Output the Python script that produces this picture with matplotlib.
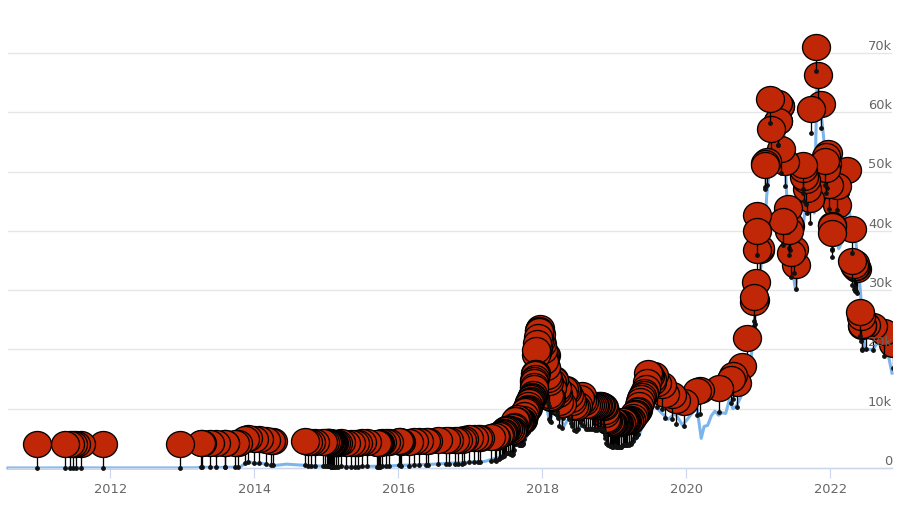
import matplotlib
matplotlib.use('Agg')
import matplotlib.pyplot as plt
from matplotlib.path import Path
from matplotlib.transforms import Affine2D
import numpy as np

# price line (year, thousands)
line_years = [2010.58, 2011.0, 2011.45, 2012.0, 2012.9, 2013.2, 2013.28, 2013.5, 2013.8, 2013.92, 2014.0, 2014.1, 2014.2, 2014.3,
              2014.45, 2014.7, 2015.0, 2015.5, 2015.9, 2016.0, 2016.5, 2017.0, 2017.2, 2017.4, 2017.5, 2017.55, 2017.65,
              2017.75, 2017.85, 2017.92, 2017.96, 2018.02, 2018.05, 2018.1, 2018.2, 2018.3, 2018.4, 2018.5, 2018.58,
              2018.7, 2018.85, 2018.95, 2019.1, 2019.25, 2019.35, 2019.45, 2019.5, 2019.6, 2019.75, 2019.85, 2019.95,
              2020.1, 2020.15, 2020.21, 2020.25, 2020.3, 2020.35, 2020.4, 2020.45, 2020.5, 2020.55, 2020.6, 2020.65, 2020.7,
              2020.8, 2020.9, 2020.98, 2021.03, 2021.08,
              2021.12, 2021.2, 2021.28, 2021.36, 2021.4, 2021.47, 2021.52, 2021.6, 2021.7, 2021.78, 2021.82, 2021.9,
              2021.98, 2022.05, 2022.12, 2022.2, 2022.24, 2022.3, 2022.36, 2022.42, 2022.48, 2022.6, 2022.7, 2022.8, 2022.86]
line_values = [0.0, 0.0, 0.02, 0.01, 0.01, 0.03, 0.13, 0.09, 0.15, 1.1, 0.75, 0.8, 0.5, 0.45,
               0.65, 0.45, 0.28, 0.25, 0.35, 0.43, 0.65, 1.0, 1.1, 1.8, 2.5, 2.3, 4.3,
               4.3, 7.5, 11.5, 19.0, 14.0, 11.0, 8.0, 10.5, 7.0, 9.0, 6.3, 8.0,
               6.5, 6.3, 3.5, 3.5, 4.1, 5.6, 9.0, 12.0, 10.0, 8.2, 9.2, 7.2,
               9.5, 10.2, 5.0, 7.0, 7.2, 8.8, 9.6, 8.9, 9.3, 9.2, 11.5, 10.0, 10.5,
               13.0, 18.0, 29.0, 33.0, 38.0,
               46.0, 55.0, 50.0, 57.0, 45.0, 34.0, 30.0, 39.0, 47.0, 43.0, 66.0, 57.0,
               47.0, 41.0, 37.0, 39.0, 46.0, 40.0, 38.0, 30.0, 20.0, 20.0, 22.0, 19.5, 16.0]

flag_years = [2010.98, 2011.37, 2011.44, 2011.48, 2011.53, 2011.60, 2011.90, 2012.97, 2013.26, 2013.27, 2013.38, 2013.47,
              2013.59, 2013.60, 2013.74, 2013.78, 2013.87, 2013.92, 2014.0, 2014.06, 2014.17, 2014.24, 2014.26,
              2014.70, 2014.75, 2014.79, 2014.84, 2014.95, 2014.98, 2015.01, 2015.03, 2015.05, 2015.07, 2015.09, 2015.10,
              2015.13, 2015.16, 2015.21, 2015.28, 2015.35, 2015.40, 2015.44, 2015.50, 2015.57, 2015.71, 2015.72, 2015.74,
              2015.77, 2015.83, 2015.87, 2016.01, 2016.04, 2016.15, 2016.22, 2016.29, 2016.38, 2016.41, 2016.55, 2016.66,
              2016.71, 2016.79, 2016.83, 2016.88, 2016.92, 2016.99, 2017.06, 2017.11, 2017.13, 2017.29, 2017.34,
              2017.36, 2017.40, 2017.44, 2017.47, 2017.50, 2017.53, 2017.56, 2017.58, 2017.60, 2017.62, 2017.65, 2017.68,
              2017.71, 2017.73, 2017.76, 2017.78, 2017.80, 2017.82, 2017.84, 2017.86, 2017.87, 2017.88, 2017.89, 2017.90,
              2017.91, 2017.915, 2017.93, 2017.94, 2017.95, 2017.97, 2017.98, 2017.99, 2018.00,
              2018.03, 2018.05, 2018.07, 2018.09, 2018.10, 2018.12, 2018.14, 2018.17, 2018.20, 2018.22, 2018.24, 2018.27,
              2018.29, 2018.31, 2018.35, 2018.37, 2018.40, 2018.44, 2018.47, 2018.50, 2018.53, 2018.56, 2018.58, 2018.61,
              2018.64, 2018.69, 2018.72, 2018.76, 2018.80, 2018.84, 2018.87, 2018.89, 2018.92, 2018.95, 2018.98, 2019.00,
              2019.03, 2019.06, 2019.09, 2019.12, 2019.15, 2019.18, 2019.21, 2019.24, 2019.27, 2019.30, 2019.33, 2019.36,
              2019.39, 2019.42, 2019.45, 2019.47, 2019.50, 2019.53, 2019.56, 2019.60, 2019.66, 2019.71, 2019.80, 2019.86,
              2019.97, 2020.15, 2020.19, 2020.45, 2020.63, 2020.65, 2020.70, 2020.77, 2020.84, 2020.94, 2020.94, 2020.95,
              2020.97, 2020.98, 2020.98, 2020.98, 2021.03, 2021.03, 2021.10, 2021.12, 2021.17, 2021.18, 2021.28, 2021.30,
              2021.32, 2021.37, 2021.34, 2021.43, 2021.43, 2021.50, 2021.52, 2021.46, 2021.62, 2021.64, 2021.72, 2021.74,
              2021.81, 2021.83, 2021.88, 2021.93, 2021.94, 2021.96, 2021.98, 2022.09, 2022.10, 2022.02, 2022.02, 2022.24,
              2022.30, 2022.31, 2022.33, 2022.35, 2022.38, 2022.42, 2022.44, 2022.45, 2022.50, 2022.60, 2022.75, 2022.87]
flag_values = [0.0, 0.0, 0.02, 0.02, 0.02, 0.02, 0.03, 0.01, 0.1, 0.12, 0.12, 0.13,
               0.1, 0.1, 0.13, 0.2, 0.8, 1.0, 0.8, 0.85, 0.6, 0.5, 0.45,
               0.48, 0.4, 0.37, 0.35, 0.32, 0.3, 0.28, 0.27, 0.26, 0.25, 0.24, 0.25,
               0.24, 0.25, 0.27, 0.25, 0.24, 0.22, 0.24, 0.26, 0.28, 0.25, 0.24, 0.25,
               0.3, 0.38, 0.42, 0.43, 0.42, 0.42, 0.44, 0.46, 0.5, 0.55, 0.68, 0.65,
               0.62, 0.62, 0.68, 0.72, 0.76, 0.95, 0.98, 1.0, 1.05, 1.1, 1.3,
               1.2, 1.5, 1.8, 2.1, 2.5, 2.6, 2.5, 2.2, 2.8, 4.0, 4.4, 3.9,
               3.9, 4.3, 5.5, 5.8, 6.0, 7.1, 7.4, 8.0, 8.2, 9.5, 10.5, 11.8,
               12.0, 15.9, 17.0, 18.0, 19.0, 19.6, 18.5, 17.5, 16.8,
               14.5, 15.0, 11.5, 10.5, 8.2, 7.8, 10.5, 11.0, 9.5, 8.5, 7.0, 6.8,
               8.5, 9.3, 9.0, 8.3, 7.6, 6.4, 6.3, 6.6, 7.8, 8.2, 7.0, 6.5,
               6.6, 6.6, 6.5, 6.4, 6.5, 6.4, 5.6, 4.3, 3.8, 3.7, 3.6, 3.8,
               3.6, 3.5, 3.5, 3.8, 3.9, 3.9, 4.0, 4.2, 5.1, 5.3, 5.7, 7.3,
               8.1, 8.7, 10.5, 12.0, 11.5, 10.5, 11.6, 10.3, 10.0, 8.5, 8.3, 7.4,
               7.1, 8.9, 9.1, 9.4, 11.0, 11.7, 10.3, 13.2, 17.9, 24.8, 24.0, 24.2,
               27.4, 32.7, 38.6, 36.0, 33.0, 32.7, 47.4, 47.8, 58.2, 53.2, 54.5, 57.0,
               49.8, 47.5, 37.6, 37.1, 36.0, 32.9, 30.2, 32.2, 47.0, 45.0, 41.3, 56.5,
               67.0, 62.2, 57.3, 47.7, 46.4, 47.2, 43.7, 43.5, 40.3, 36.8, 35.6, 46.2,
               36.3, 30.9, 30.2, 29.9, 29.5, 22.3, 20.0, 19.9, 20.0, 19.9, 18.9, 16.9]

# second pass through the crowded stretches
dense_years = [2015.02, 2015.04, 2015.06, 2015.08, 2015.11, 2015.73, 2015.75, 2016.03, 2017.42, 2017.46, 2017.49, 2017.52,
               2017.55, 2017.59, 2017.61, 2017.63, 2017.66, 2017.69, 2017.72, 2017.74, 2017.75, 2017.77, 2017.79, 2017.81,
               2017.83, 2017.85, 2017.86, 2017.87, 2017.88, 2017.89, 2017.895, 2017.905, 2017.92, 2017.93, 2017.94, 2017.95,
               2017.96, 2017.96, 2018.01, 2018.02, 2018.04, 2018.06, 2018.08, 2018.11, 2018.13, 2018.16, 2018.21, 2018.33,
               2018.42, 2018.55, 2018.66, 2018.74, 2018.78, 2018.82, 2018.86, 2018.88, 2018.90, 2018.94, 2018.97, 2019.01,
               2019.04, 2019.07, 2019.10, 2019.14, 2019.17, 2019.20, 2019.23, 2019.26, 2019.29, 2019.32, 2019.35, 2019.38,
               2019.41, 2019.44, 2019.48, 2019.52, 2021.09, 2021.27, 2021.27, 2021.31, 2021.42, 2021.44, 2021.63, 2021.66,
               2021.68, 2021.95, 2021.97, 2022.03, 2022.34, 2022.36, 2022.43]
dense_values = [0.27, 0.26, 0.25, 0.24, 0.25, 0.25, 0.24, 0.43, 1.7, 2.0, 2.4, 2.6,
                2.4, 2.4, 3.0, 4.1, 4.3, 3.8, 3.9, 4.1, 4.9, 5.7, 5.9, 6.5,
                7.3, 7.7, 8.1, 8.5, 9.8, 10.8, 11.2, 11.9, 15.0, 15.5, 16.0, 17.5,
                18.5, 19.2, 15.8, 14.0, 14.8, 13.0, 11.0, 8.0, 9.5, 10.8, 9.0, 9.2,
                7.0, 7.2, 6.6, 6.4, 6.5, 6.5, 6.2, 5.0, 4.1, 3.7, 3.6, 3.7,
                3.6, 3.5, 3.6, 3.8, 3.9, 3.9, 4.1, 4.6, 5.2, 5.5, 6.5, 7.8,
                8.4, 9.5, 11.8, 11.0, 47.0, 57.5, 54.5, 57.0, 39.8, 36.8, 46.3, 44.5,
                43.0, 48.5, 49.0, 37.0, 30.5, 29.8, 21.5]

year_ticks = [2012, 2014, 2016, 2018, 2020, 2022]
value_ticks = [0, 10, 20, 30, 40, 50, 60, 70]
value_labels = ['0', '10k', '20k', '30k', '40k', '50k', '60k', '70k']

plt.rcParams['font.family'] = 'DejaVu Sans'
px = 72 / 100

fig = plt.figure(figsize=(9.10, 5.08), dpi=100)
ax = fig.add_axes([8 / 910, (508 - 470) / 508, 884 / 910, 470 / 508])
ax.set_xlim(2010.58, 2022.86)
ax.set_ylim(-2 / 5.93, 468 / 5.93)

for s in ['top', 'left', 'right']:
    ax.spines[s].set_visible(False)
ax.spines['bottom'].set_position(('data', 0))
ax.spines['bottom'].set_color('#ccd6eb')
ax.spines['bottom'].set_linewidth(1.0)
ax.set_yticks(value_ticks)
ax.set_yticklabels([])
ax.tick_params(axis='y', length=0)
ax.set_xticks(year_ticks)
ax.tick_params(axis='x', length=10 * px, width=0.8, color='#ccd6eb', labelcolor='#666666',
               labelsize=13 * px, pad=5 * px)
ax.grid(axis='y', color='#e6e6e6', linewidth=1.0)
ax.set_axisbelow(True)

ax.plot(line_years, line_values, color='#7cb5ec', linewidth=2.2, solid_joinstyle='round', zorder=2, clip_on=False)

# pin marker: ellipse on a stem, tip at the data point
head = Path.unit_circle().transformed(Affine2D().scale(14, 13).translate(0, 24))
stem = Path([(0, 0), (0, 11)], [Path.MOVETO, Path.LINETO])
pin = Path.make_compound_path(head, stem)
pin_size = 2 * 37 * px

all_years = np.array(flag_years + dense_years)
all_values = np.array(flag_values + dense_values)
# earlier pins lie on top of later ones
order = np.argsort(all_years)[::-1]

for n, i in enumerate(order):
    ax.plot([all_years[i]], [all_values[i]], marker=pin, markersize=pin_size, markerfacecolor='#c02706',
            markeredgecolor='black', markeredgewidth=1.3 * px, linestyle='none', zorder=3 + n * 0.001)
    ax.plot([all_years[i]], [all_values[i]], marker='o', markersize=3.4 * px, color='#111111',
            linestyle='none', zorder=3 + n * 0.001)

# value labels sit above the grid lines and over the pins
ax2 = ax.twinx()
ax2.set_ylim(ax.get_ylim())
ax2.set_zorder(ax.get_zorder() + 1)
ax2.patch.set_visible(False)
for s in ax2.spines.values():
    s.set_visible(False)
ax2.set_yticks(value_ticks)
ax2.set_yticklabels(value_labels)
ax2.tick_params(axis='y', length=0, pad=0, labelcolor='#666666', labelsize=13 * px)
for label in ax2.get_yticklabels():
    label.set_ha('right')
    label.set_va('bottom')

fig.savefig('out.png', dpi=100)
